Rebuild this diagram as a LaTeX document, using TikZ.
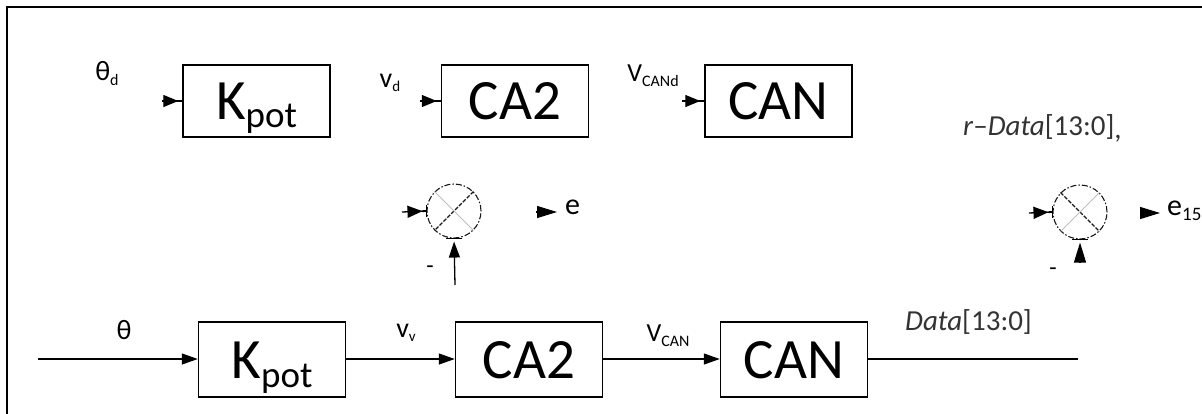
\documentclass[tikz,border=0pt]{standalone}
\usepackage{fontspec}
\setmainfont{Carlito}
\usetikzlibrary{arrows.meta}
\newcommand{\fsz}[1]{\fontsize{#1}{#1}\selectfont}
\newcommand{\subtx}[3]{\raisebox{-#2}{\fsz{#1}#3}}
\begin{document}
\begin{tikzpicture}[x=1pt,y=-1pt,
  blk/.style={draw, line width=1.5pt, minimum width=147pt, inner sep=0pt, text height=37pt, text depth=0pt, font=\fsz{57}},
  topblk/.style={blk, minimum height=72pt},
  botblk/.style={blk, minimum height=75pt},
  lbl/.style={inner sep=0pt},
  sig/.style={line width=1.3pt, -{Triangle[length=16pt,width=11pt]}},
  stub/.style={line width=1.3pt, -{Triangle[length=15pt,width=12pt]Rectangle[length=4pt,width=1.8pt]}},
  free/.style={line width=1.3pt, -{Triangle[length=20pt,width=12pt]}},
  sumc/.style={circle, draw=black!90, line width=1.1pt, dash pattern=on 6pt off 2pt on 1.5pt off 2pt, minimum size=54pt, inner sep=0pt},
  darkdiag/.style={black!90, line width=1.1pt, dash pattern=on 4pt off 1.5pt},
  lightdiag/.style={black!25, line width=1pt},
  tick/.style={line width=1.3pt},
]
\useasboundingbox (0,0) rectangle (1202,413);
\clip (0,0) rectangle (1202,413);
\draw[line width=2pt] (7,7) rectangle (1260,460);

% top row
\node[topblk] (k1) at (256.5,101) {K\subtx{37}{8pt}{pot}};
\node[topblk] (a1) at (515,101) {CA2};
\node[topblk] (c1) at (778.5,101) {CAN};
\coordinate (k1in) at (162,101);
\coordinate (a1in) at (420,101);
\coordinate (c1in) at (682,101);
\draw[stub] (k1in) -- (k1.west);
\draw[stub] (a1in) -- (a1.west);
\draw[stub] (c1in) -- (c1.west);
\node[lbl, font=\fsz{28}] (thd) at (107,73) {θ\subtx{16}{5pt}{d}};
\node[lbl, font=\fsz{28}] (vd) at (390,83) {v\subtx{15}{4pt}{d}};
\node[lbl, font=\fsz{26}] (vcand) at (653,76) {V\subtx{16}{5pt}{CANd}};
\node[lbl, font=\fsz{29}, text=black!80, anchor=west] (rdata) at (963,128) {\textit{r}–\textit{Data}[13:0]\raisebox{-3pt}{,}};

% summing junction 1
\node[sumc] (s1) at (454,211) {};
\draw[darkdiag] (s1.45) -- (s1.225);
\draw[lightdiag] (s1.135) -- (s1.-45);
\draw[tick] ([xshift=-8pt]s1.south) -- ([xshift=8pt]s1.south);
\draw[tick] ([yshift=-6pt]s1.west) -- ([yshift=6pt]s1.west);
\coordinate (s1in) at (402,212);
\draw[stub] (s1in) -- (s1.west);
\coordinate (s1fb) at (455,285);
\draw[sig, shorten >=3pt] (s1fb) -- (s1.south);
\node[lbl, font=\fsz{24}] (m1) at (430,270) {-};
\coordinate (e1a) at (536,212);
\coordinate (e1b) at (557,212);
\draw[free] (e1a) -- (e1b);
\node[lbl, font=\fsz{30}, anchor=west] (e1) at (565,207) {e};

% summing junction 2
\node[sumc] (s2) at (1080,212) {};
\draw[darkdiag] (s2.135) -- (s2.-45);
\draw[lightdiag] (s2.45) -- (s2.225);
\draw[tick] ([xshift=-8pt]s2.south) -- ([xshift=8pt]s2.south);
\draw[tick] ([yshift=-6pt]s2.west) -- ([yshift=6pt]s2.west);
\coordinate (s2in) at (1029,213);
\draw[stub] (s2in) -- (s2.west);
\coordinate (s2fb) at (1080,262);
\draw[free, shorten >=3pt] (s2fb) -- (s2.south);
\node[lbl, font=\fsz{24}] (m2) at (1053,272) {-};
\coordinate (e2a) at (1140,213);
\coordinate (e2b) at (1160,213);
\draw[free] (e2a) -- (e2b);
\node[lbl, font=\fsz{30}, anchor=west] (e2) at (1167,211) {e\subtx{19}{5pt}{15}};

% bottom row
\node[botblk] (k2) at (272,359.5) {K\subtx{37}{9pt}{pot}};
\node[botblk] (a2) at (529,359.5) {CA2};
\node[botblk] (c2) at (794,359.5) {CAN};
\coordinate (in) at (38,359);
\coordinate (out) at (1078,359);
\draw[sig] (in) -- (k2.west |- in);
\draw[sig] (k2.east |- in) -- (a2.west |- in);
\draw[sig] (a2.east |- in) -- (c2.west |- in);
\draw[line width=1.3pt] (c2.east |- in) -- (out);
\node[lbl, font=\fsz{28}] (th) at (124,330) {θ};
\node[lbl, font=\fsz{28}] (vv) at (406,333) {v\subtx{15}{4pt}{v}};
\node[lbl, font=\fsz{26}] (vcan) at (668,336) {V\subtx{16}{5pt}{CAN}};
\node[lbl, font=\fsz{29}, text=black!80, anchor=west] (data) at (905,322) {\textit{Data}[13:0]};
\end{tikzpicture}
\end{document}
